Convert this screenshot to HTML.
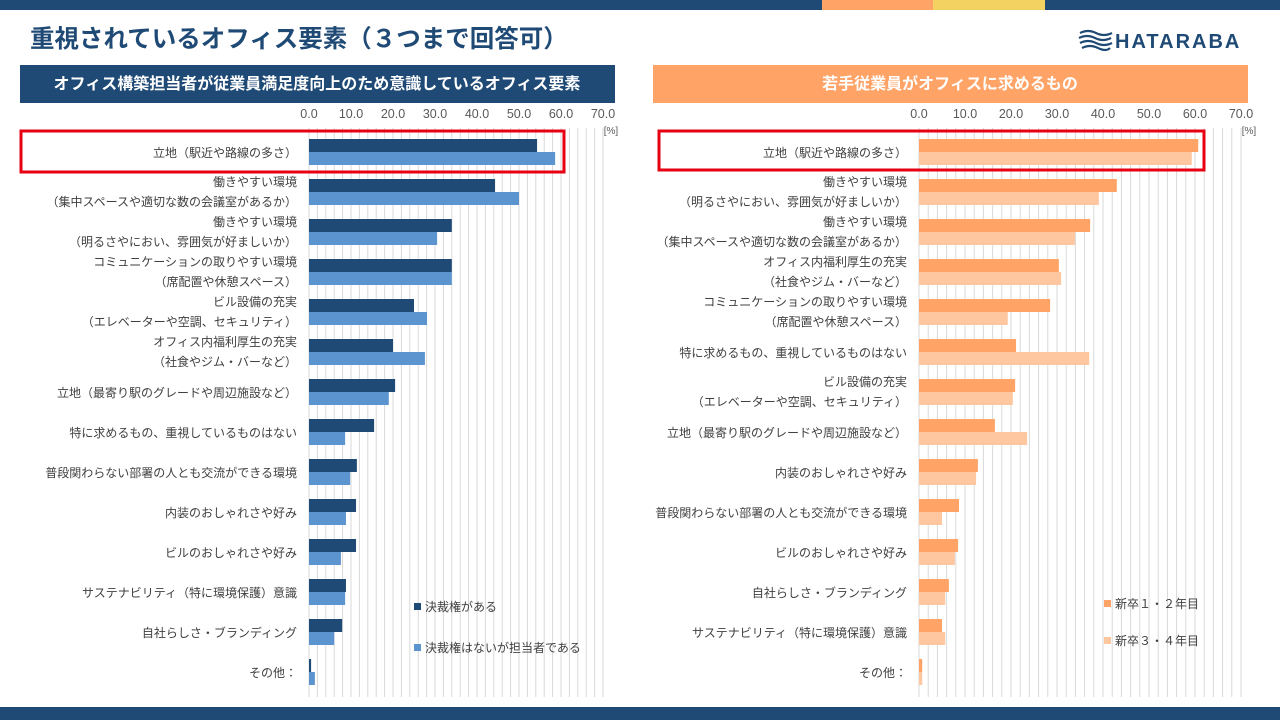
<!DOCTYPE html>
<html><head><meta charset="utf-8">
<style>
body{margin:0;width:1280px;height:720px;overflow:hidden;background:#fff;font-family:"Liberation Sans","Noto Sans CJK JP",sans-serif;}
svg text{font-family:"Liberation Sans","Noto Sans CJK JP",sans-serif;}
</style></head>
<body>
<svg id="s" width="1280" height="720" xmlns="http://www.w3.org/2000/svg">
<rect x="0" y="0" width="1280" height="10" fill="#1F4A75"/>
<rect x="822" y="0" width="111" height="10" fill="#FFA366"/>
<rect x="933" y="0" width="112" height="10" fill="#F3D262"/>
<rect x="0" y="707" width="1280" height="13" fill="#1F4A75"/>
<text x="30" y="47" font-size="24.5" font-weight="bold" fill="#1F4A75">重視されているオフィス要素（３つまで回答可）</text>
<g>
<path d="M1080 33 q8 -4 16 0 t16 0 M1079 38 q8 -4 16 0 t16 0 M1080 43 q8 -4 16 0 t16 0 M1082 48 q8 -4 16 0 t12 0" stroke="#1F4A75" stroke-width="2.2" fill="none"/>
<text x="1115" y="48" font-size="20" font-weight="bold" fill="#1F4A75" letter-spacing="2">HATARABA</text>
</g>
<rect x="20" y="65" width="595" height="38" fill="#1F4A75"/>
<text x="317" y="89" font-size="16" font-weight="bold" fill="#fff" text-anchor="middle">オフィス構築担当者が従業員満足度向上のため意識しているオフィス要素</text>
<rect x="653" y="65" width="595" height="38" fill="#FFA366"/>
<text x="950" y="89" font-size="16" font-weight="bold" fill="#fff" text-anchor="middle">若手従業員がオフィスに求めるもの</text>
<g id="L"></g><g id="R"></g>
</svg>
<script>
const leftCategories=[["立地（駅近や路線の多さ）"],["働きやすい環境","（集中スペースや適切な数の会議室があるか）"],["働きやすい環境","（明るさやにおい、雰囲気が好ましいか）"],["コミュニケーションの取りやすい環境","（席配置や休憩スペース）"],["ビル設備の充実","（エレベーターや空調、セキュリティ）"],["オフィス内福利厚生の充実","（社食やジム・バーなど）"],["立地（最寄り駅のグレードや周辺施設など）"],["特に求めるもの、重視しているものはない"],["普段関わらない部署の人とも交流ができる環境"],["内装のおしゃれさや好み"],["ビルのおしゃれさや好み"],["サステナビリティ（特に環境保護）意識"],["自社らしさ・ブランディング"],["その他："]];
const leftSeriesA=[54.3,44.3,34,34,25,20,20.5,15.5,11.4,11.2,11.2,8.8,7.9,0.5];
const leftSeriesB=[58.6,50,30.5,34,28.1,27.6,19,8.6,9.8,8.8,7.6,8.6,6,1.4];
const rightCategories=[["立地（駅近や路線の多さ）"],["働きやすい環境","（明るさやにおい、雰囲気が好ましいか）"],["働きやすい環境","（集中スペースや適切な数の会議室があるか）"],["オフィス内福利厚生の充実","（社食やジム・バーなど）"],["コミュニケーションの取りやすい環境","（席配置や休憩スペース）"],["特に求めるもの、重視しているものはない"],["ビル設備の充実","（エレベーターや空調、セキュリティ）"],["立地（最寄り駅のグレードや周辺施設など）"],["内装のおしゃれさや好み"],["普段関わらない部署の人とも交流ができる環境"],["ビルのおしゃれさや好み"],["自社らしさ・ブランディング"],["サステナビリティ（特に環境保護）意識"],["その他："]];
const rightSeriesA=[60.7,43,37.2,30.4,28.5,21.1,20.9,16.5,12.8,8.7,8.5,6.5,5,0.7];
const rightSeriesB=[59.3,39.1,33.9,30.9,19.3,37,20.4,23.5,12.4,5,7.8,5.7,5.7,0.7];
const tickLabels=["0.0","10.0","20.0","30.0","40.0","50.0","60.0","70.0"];
const NS="http://www.w3.org/2000/svg";
function mk(p,tag,a,t){const e=document.createElementNS(NS,tag);for(const k in a)e.setAttribute(k,a[k]);if(t!=null)e.textContent=t;p.appendChild(e);return e;}
function chart(g,x0,x1,cats,A,B,cA,cB,names,legend,box){
  const sx=v=>x0+(x1-x0)*v/70;
  const top=128,rowH=40;
  for(let v=0;v<=70;v+=2){const l=mk(g,'line',{x1:sx(v),x2:sx(v),y1:top,y2:697,stroke:'#d9d9d9','stroke-width':1});
    
    }
  tickLabels.forEach((t,i)=>{const e=mk(g,'text',{x:sx(i*10),y:118,'font-size':12.5,fill:'#595959','text-anchor':'middle'},t);
    
    });
  const u=mk(g,'text',{x:x1+8,y:134,'font-size':10,fill:'#595959','text-anchor':'middle'},'[%]');
  
  
  cats.forEach((c,i)=>{const cy=top+rowH*i+25;
    const a=mk(g,'rect',{x:x0,y:cy-14,width:sx(A[i])-x0,height:13,fill:cA});
    
    
    const b=mk(g,'rect',{x:x0,y:cy-1,width:sx(B[i])-x0,height:13,fill:cB});
    
    
    if(c.length==1){const t=mk(g,'text',{x:x0-12,y:cy+4,'font-size':12,fill:'#404040','text-anchor':'end'},c[0]);
      
      }
    else{c.forEach((s,j)=>{const t=mk(g,'text',{x:x0-12,y:cy-7+j*20,'font-size':12,fill:'#404040','text-anchor':'end'},s);
      
      });}
  });
  const r=mk(g,'rect',{x:box[0],y:box[1],width:box[2],height:box[3],fill:'none',stroke:'#E60012','stroke-width':3});
  
  
  legend.forEach((L,i)=>{const s=mk(g,'rect',{x:L[0],y:L[1]-5,width:7,height:7,fill:i?cB:cA});
    
    
    const t=mk(g,'text',{x:L[0]+11,y:L[1]+3,'font-size':12,fill:'#404040'},L[2]);
    
    });
}
chart(document.getElementById('L'),309,603,leftCategories,leftSeriesA,leftSeriesB,'#1F4A75','#5B94CF',['has-authority','in-charge'],[[414,608,'決裁権がある'],[414,649,'決裁権はないが担当者である']],[21,131,543,41]);
chart(document.getElementById('R'),919,1241,rightCategories,rightSeriesA,rightSeriesB,'#FFA366','#FFC7A0',['year-1-2','year-3-4'],[[1104,605,'新卒１・２年目'],[1104,642,'新卒３・４年目']],[659,131,545,39]);
</script>
</body></html>
